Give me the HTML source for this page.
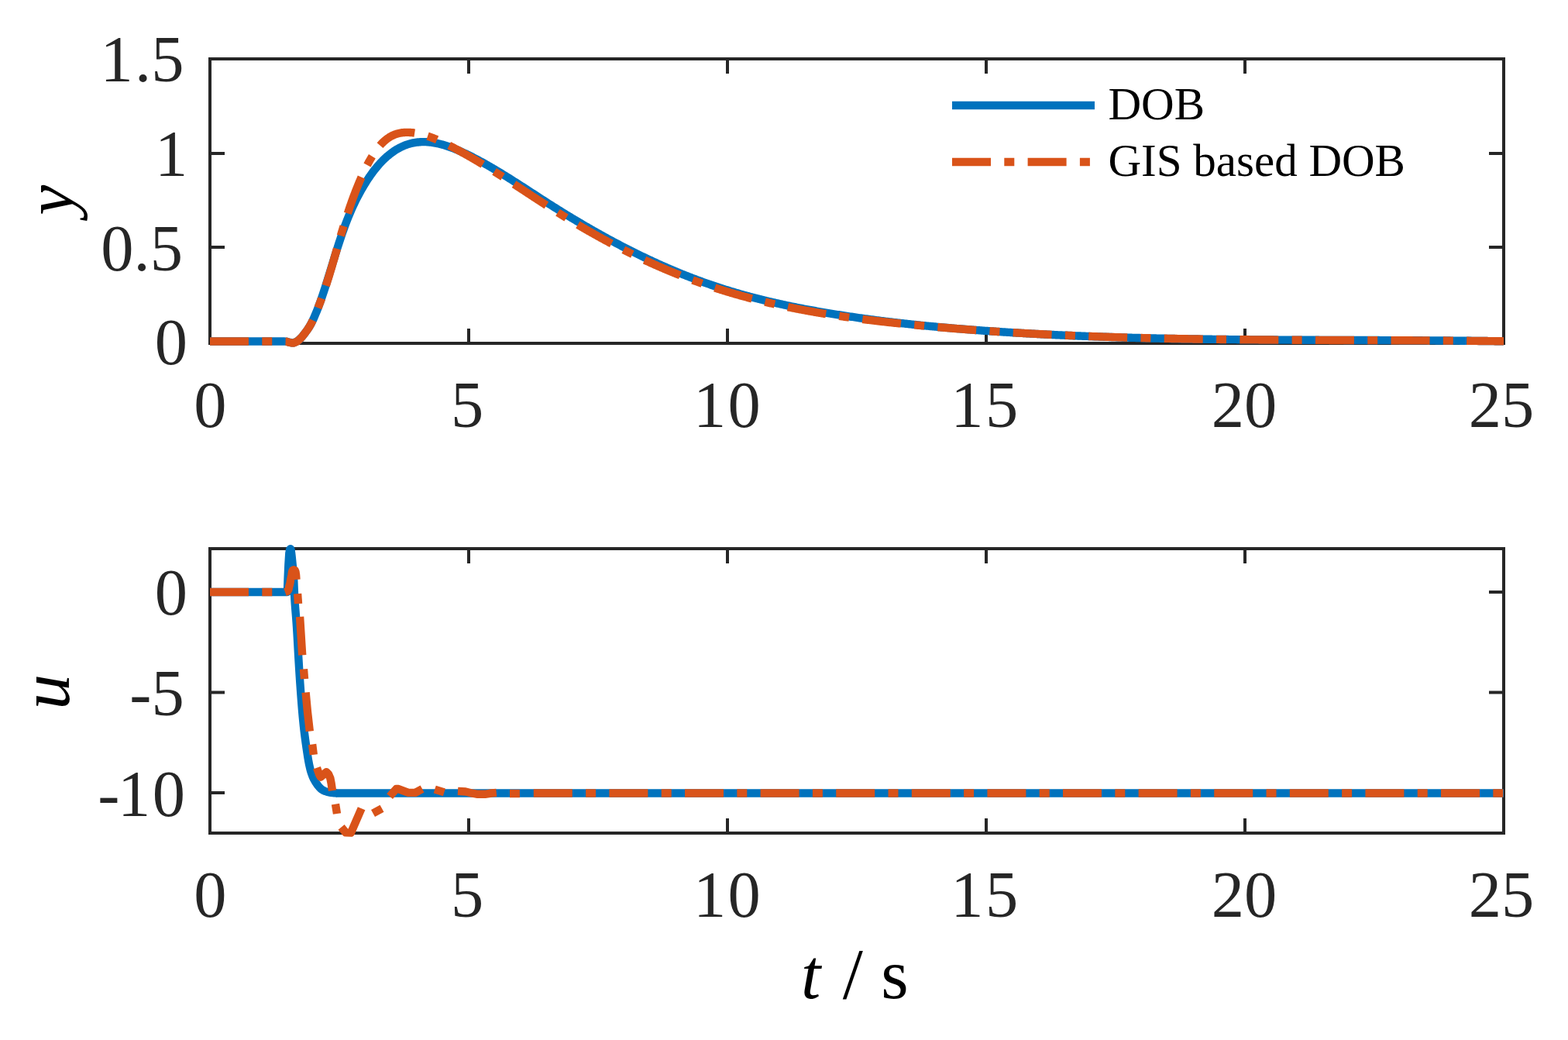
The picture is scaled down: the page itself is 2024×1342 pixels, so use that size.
<!DOCTYPE html>
<html lang="en"><head><meta charset="utf-8"><title>DOB vs GIS based DOB</title>
<style>html,body{margin:0;padding:0;background:#fff}body{width:2024px;height:1342px;overflow:hidden}svg{display:block}text{font-family:"Liberation Serif","Times New Roman",Times,serif}.tk{font-size:84.5px;fill:#262626}.lg{font-size:59px;fill:#000}.al{font-size:91px;fill:#000}.ax{fill:none;stroke:#262626;stroke-width:4;stroke-linecap:butt;stroke-linejoin:miter}.b{fill:none;stroke:#0072BD;stroke-width:10.4;stroke-linejoin:round;stroke-linecap:butt}.o{fill:none;stroke:#D95319;stroke-width:10.4;stroke-linejoin:round;stroke-linecap:butt}</style></head><body>
<svg width="2024" height="1342" viewBox="0 0 2024 1342" role="img" aria-label="Responses of y and u for DOB and GIS based DOB">
<rect width="2024" height="1342" fill="#fff"/>
<g class="ax" id="top-axes">
<rect x="271" y="76" width="1670" height="367"/>
<path d="M605 443V424M605 76V95M939 443V424M939 76V95M1273 443V424M1273 76V95M1607 443V424M1607 76V95M271 198H290M1941 198H1922M271 319H290M1941 319H1922M271 440.4H290M1941 440.4H1922"/>
</g>
<clipPath id="ct"><rect x="271" y="60" width="1670" height="400"/></clipPath>
<clipPath id="cb"><rect x="271" y="690" width="1670" height="400"/></clipPath>
<g clip-path="url(#ct)">
<path class="b" d="M271 440.55 L272.5 440.55 L274 440.55 L275.5 440.55 L277 440.55 L278.5 440.55 L280 440.55 L281.5 440.55 L283 440.55 L284.5 440.55 L286 440.55 L287.5 440.55 L289 440.55 L290.5 440.55 L292 440.55 L293.5 440.55 L295 440.55 L296.5 440.55 L298 440.55 L299.5 440.55 L301 440.55 L302.5 440.55 L304 440.55 L305.5 440.55 L307 440.55 L308.5 440.55 L310 440.55 L311.5 440.55 L313 440.55 L314.5 440.55 L316 440.55 L317.5 440.55 L319 440.55 L320.5 440.55 L322 440.55 L323.5 440.55 L325 440.55 L326.5 440.55 L328 440.55 L329.5 440.55 L331 440.55 L332.5 440.55 L334 440.55 L335.5 440.55 L337 440.55 L338.5 440.55 L340 440.55 L341.5 440.55 L343 440.55 L344.5 440.55 L346 440.55 L347.5 440.55 L349 440.55 L350.5 440.55 L352 440.55 L353.5 440.55 L355 440.55 L356.5 440.55 L358 440.55 L359.5 440.55 L361 440.55 L362.5 440.55 L364 440.55 L365.5 440.55 L367 440.56 L368.5 440.59 L370 440.74 L371.5 441.18 L373 441.6 L374.5 441.92 L376 442.22 L377.5 442.39 L379 442.28 L380.5 441.79 L382 441.1 L383.5 440.33 L385 439.3 L386.5 438.02 L388 436.6 L389.5 435.01 L391 433.2 L392.5 431.25 L394 429.27 L395.5 427.26 L397 425.18 L398.5 422.94 L400 420.51 L401.5 417.85 L403 414.94 L404.5 411.78 L406 408.38 L407.5 404.82 L409 401.16 L410.5 397.38 L412 393.44 L413.5 389.31 L415 385.04 L416.5 380.65 L418 376.14 L419.5 371.53 L421 366.84 L422.5 362.09 L424 357.27 L425.5 352.42 L427 347.54 L428.5 342.65 L430 337.76 L431.5 332.89 L433 328.05 L434.5 323.26 L436 318.52 L437.5 313.86 L439 309.27 L440.5 304.78 L442 300.41 L443.5 296.15 L445 292.03 L446.5 288.03 L448 284.15 L449.5 280.39 L451 276.74 L452.5 273.21 L454 269.78 L455.5 266.45 L457 263.23 L458.5 260.1 L460 257.06 L461.5 254.12 L463 251.25 L464.5 248.47 L466 245.77 L467.5 243.14 L469 240.57 L470.5 238.08 L472 235.65 L473.5 233.29 L475 230.99 L476.5 228.76 L478 226.59 L479.5 224.48 L481 222.44 L482.5 220.45 L484 218.53 L485.5 216.66 L487 214.86 L488.5 213.11 L490 211.42 L491.5 209.79 L493 208.21 L494.5 206.69 L496 205.23 L497.5 203.81 L499 202.46 L500.5 201.15 L502 199.9 L503.5 198.7 L505 197.55 L506.5 196.45 L508 195.39 L509.5 194.39 L511 193.44 L512.5 192.53 L514 191.67 L515.5 190.85 L517 190.08 L518.5 189.36 L520 188.68 L521.5 188.04 L523 187.44 L524.5 186.89 L526 186.37 L527.5 185.9 L529 185.46 L530.5 185.07 L532 184.71 L533.5 184.39 L535 184.11 L536.5 183.86 L538 183.65 L539.5 183.48 L541 183.33 L542.5 183.22 L544 183.15 L545.5 183.1 L547 183.09 L548.5 183.11 L550 183.15 L551.5 183.23 L553 183.34 L554.5 183.47 L556 183.63 L557.5 183.82 L559 184.04 L560.5 184.28 L562 184.54 L563.5 184.83 L565 185.15 L566.5 185.49 L568 185.85 L569.5 186.23 L571 186.64 L572.5 187.06 L574 187.51 L575.5 187.97 L577 188.46 L578.5 188.96 L580 189.48 L581.5 190.02 L583 190.58 L584.5 191.15 L586 191.73 L587.5 192.34 L589 192.95 L590.5 193.58 L592 194.22 L593.5 194.88 L595 195.54 L596.5 196.22 L598 196.91 L599.5 197.61 L601 198.32 L602.5 199.03 L604 199.76 L605.5 200.49 L607 201.24 L608.5 201.99 L610 202.75 L611.5 203.52 L613 204.29 L614.5 205.08 L616 205.87 L617.5 206.67 L619 207.47 L620.5 208.28 L622 209.11 L623.5 209.93 L625 210.77 L626.5 211.61 L628 212.45 L629.5 213.31 L631 214.17 L632.5 215.03 L634 215.9 L635.5 216.78 L637 217.66 L638.5 218.55 L640 219.44 L641.5 220.34 L643 221.24 L644.5 222.14 L646 223.05 L647.5 223.97 L649 224.89 L650.5 225.81 L652 226.74 L653.5 227.67 L655 228.61 L656.5 229.54 L658 230.48 L659.5 231.43 L661 232.38 L662.5 233.33 L664 234.28 L665.5 235.23 L667 236.19 L668.5 237.15 L670 238.11 L671.5 239.07 L673 240.04 L674.5 241 L676 241.97 L677.5 242.94 L679 243.91 L680.5 244.88 L682 245.85 L683.5 246.82 L685 247.79 L686.5 248.77 L688 249.74 L689.5 250.71 L691 251.68 L692.5 252.65 L694 253.63 L695.5 254.6 L697 255.56 L698.5 256.53 L700 257.5 L701.5 258.47 L703 259.43 L704.5 260.39 L706 261.35 L707.5 262.31 L709 263.27 L710.5 264.22 L712 265.17 L713.5 266.12 L715 267.07 L716.5 268.01 L718 268.95 L719.5 269.89 L721 270.83 L722.5 271.76 L724 272.69 L725.5 273.62 L727 274.55 L728.5 275.47 L730 276.39 L731.5 277.31 L733 278.23 L734.5 279.14 L736 280.05 L737.5 280.95 L739 281.86 L740.5 282.76 L742 283.66 L743.5 284.56 L745 285.45 L746.5 286.34 L748 287.23 L749.5 288.11 L751 289 L752.5 289.88 L754 290.75 L755.5 291.63 L757 292.5 L758.5 293.37 L760 294.23 L761.5 295.09 L763 295.95 L764.5 296.81 L766 297.66 L767.5 298.52 L769 299.36 L770.5 300.21 L772 301.05 L773.5 301.89 L775 302.73 L776.5 303.56 L778 304.39 L779.5 305.22 L781 306.04 L782.5 306.87 L784 307.69 L785.5 308.5 L787 309.31 L788.5 310.12 L790 310.93 L791.5 311.73 L793 312.54 L794.5 313.33 L796 314.13 L797.5 314.92 L799 315.71 L800.5 316.49 L802 317.28 L803.5 318.05 L805 318.83 L806.5 319.6 L808 320.37 L809.5 321.14 L811 321.9 L812.5 322.66 L814 323.42 L815.5 324.18 L817 324.93 L818.5 325.67 L820 326.42 L821.5 327.16 L823 327.9 L824.5 328.63 L826 329.36 L827.5 330.09 L829 330.82 L830.5 331.54 L832 332.26 L833.5 332.97 L835 333.68 L836.5 334.39 L838 335.1 L839.5 335.8 L841 336.5 L842.5 337.19 L844 337.88 L845.5 338.57 L847 339.26 L848.5 339.94 L850 340.62 L851.5 341.29 L853 341.96 L854.5 342.63 L856 343.3 L857.5 343.96 L859 344.62 L860.5 345.27 L862 345.92 L863.5 346.57 L865 347.21 L866.5 347.85 L868 348.49 L869.5 349.12 L871 349.75 L872.5 350.38 L874 351 L875.5 351.62 L877 352.24 L878.5 352.85 L880 353.46 L881.5 354.06 L883 354.66 L884.5 355.26 L886 355.85 L887.5 356.44 L889 357.03 L890.5 357.61 L892 358.19 L893.5 358.77 L895 359.34 L896.5 359.91 L898 360.48 L899.5 361.04 L901 361.59 L902.5 362.15 L904 362.7 L905.5 363.24 L907 363.79 L908.5 364.32 L910 364.86 L911.5 365.39 L913 365.92 L914.5 366.44 L916 366.96 L917.5 367.48 L919 367.99 L920.5 368.5 L922 369 L923.5 369.5 L925 370 L926.5 370.5 L928 370.99 L929.5 371.47 L931 371.95 L932.5 372.43 L934 372.91 L935.5 373.38 L937 373.85 L938.5 374.32 L940 374.78 L941.5 375.24 L943 375.69 L944.5 376.14 L946 376.59 L947.5 377.04 L949 377.48 L950.5 377.92 L952 378.35 L953.5 378.78 L955 379.21 L956.5 379.64 L958 380.06 L959.5 380.48 L961 380.9 L962.5 381.31 L964 381.72 L965.5 382.13 L967 382.53 L968.5 382.93 L970 383.33 L971.5 383.72 L973 384.12 L974.5 384.5 L976 384.89 L977.5 385.27 L979 385.65 L980.5 386.03 L982 386.41 L983.5 386.78 L985 387.15 L986.5 387.51 L988 387.88 L989.5 388.24 L991 388.6 L992.5 388.95 L994 389.3 L995.5 389.65 L997 390 L998.5 390.35 L1000 390.69 L1001.5 391.03 L1003 391.37 L1004.5 391.7 L1006 392.03 L1007.5 392.36 L1009 392.69 L1010.5 393.02 L1012 393.34 L1013.5 393.66 L1015 393.98 L1016.5 394.29 L1018 394.61 L1019.5 394.92 L1021 395.23 L1022.5 395.53 L1024 395.84 L1025.5 396.14 L1027 396.44 L1028.5 396.74 L1030 397.04 L1031.5 397.33 L1033 397.62 L1034.5 397.91 L1036 398.2 L1037.5 398.49 L1039 398.77 L1040.5 399.05 L1042 399.33 L1043.5 399.61 L1045 399.89 L1046.5 400.16 L1048 400.43 L1049.5 400.7 L1051 400.97 L1052.5 401.24 L1054 401.51 L1055.5 401.77 L1057 402.03 L1058.5 402.29 L1060 402.55 L1061.5 402.81 L1063 403.06 L1064.5 403.32 L1066 403.57 L1067.5 403.82 L1069 404.07 L1070.5 404.32 L1072 404.56 L1073.5 404.81 L1075 405.05 L1076.5 405.29 L1078 405.53 L1079.5 405.77 L1081 406.01 L1082.5 406.25 L1084 406.48 L1085.5 406.72 L1087 406.95 L1088.5 407.18 L1090 407.41 L1091.5 407.64 L1093 407.86 L1094.5 408.09 L1096 408.31 L1097.5 408.53 L1099 408.75 L1100.5 408.97 L1102 409.19 L1103.5 409.41 L1105 409.63 L1106.5 409.84 L1108 410.05 L1109.5 410.27 L1111 410.48 L1112.5 410.69 L1114 410.89 L1115.5 411.1 L1117 411.31 L1118.5 411.51 L1120 411.71 L1121.5 411.92 L1123 412.12 L1124.5 412.32 L1126 412.51 L1127.5 412.71 L1129 412.91 L1130.5 413.1 L1132 413.3 L1133.5 413.49 L1135 413.68 L1136.5 413.87 L1138 414.06 L1139.5 414.24 L1141 414.43 L1142.5 414.62 L1144 414.8 L1145.5 414.98 L1147 415.16 L1148.5 415.34 L1150 415.52 L1151.5 415.7 L1153 415.88 L1154.5 416.05 L1156 416.23 L1157.5 416.4 L1159 416.58 L1160.5 416.75 L1162 416.92 L1163.5 417.09 L1165 417.25 L1166.5 417.42 L1168 417.59 L1169.5 417.75 L1171 417.92 L1172.5 418.08 L1174 418.24 L1175.5 418.4 L1177 418.56 L1178.5 418.72 L1180 418.88 L1181.5 419.04 L1183 419.19 L1184.5 419.35 L1186 419.5 L1187.5 419.65 L1189 419.81 L1190.5 419.96 L1192 420.11 L1193.5 420.26 L1195 420.4 L1196.5 420.55 L1198 420.7 L1199.5 420.84 L1201 420.99 L1202.5 421.13 L1204 421.27 L1205.5 421.41 L1207 421.55 L1208.5 421.69 L1210 421.83 L1211.5 421.97 L1213 422.11 L1214.5 422.24 L1216 422.38 L1217.5 422.51 L1219 422.65 L1220.5 422.78 L1222 422.91 L1223.5 423.04 L1225 423.17 L1226.5 423.3 L1228 423.43 L1229.5 423.56 L1231 423.68 L1232.5 423.81 L1234 423.93 L1235.5 424.06 L1237 424.18 L1238.5 424.3 L1240 424.43 L1241.5 424.55 L1243 424.67 L1244.5 424.79 L1246 424.91 L1247.5 425.02 L1249 425.14 L1250.5 425.26 L1252 425.37 L1253.5 425.49 L1255 425.6 L1256.5 425.72 L1258 425.83 L1259.5 425.94 L1261 426.06 L1262.5 426.17 L1264 426.28 L1265.5 426.39 L1267 426.5 L1268.5 426.6 L1270 426.71 L1271.5 426.82 L1273 426.92 L1274.5 427.03 L1276 427.14 L1277.5 427.24 L1279 427.34 L1280.5 427.45 L1282 427.55 L1283.5 427.65 L1285 427.75 L1286.5 427.85 L1288 427.95 L1289.5 428.05 L1291 428.15 L1292.5 428.25 L1294 428.35 L1295.5 428.44 L1297 428.54 L1298.5 428.64 L1300 428.73 L1301.5 428.82 L1303 428.92 L1304.5 429.01 L1306 429.1 L1307.5 429.2 L1309 429.29 L1310.5 429.38 L1312 429.47 L1313.5 429.56 L1315 429.65 L1316.5 429.74 L1318 429.82 L1319.5 429.91 L1321 430 L1322.5 430.08 L1324 430.17 L1325.5 430.25 L1327 430.34 L1328.5 430.42 L1330 430.5 L1331.5 430.59 L1333 430.67 L1334.5 430.75 L1336 430.83 L1337.5 430.91 L1339 430.99 L1340.5 431.07 L1342 431.15 L1343.5 431.23 L1345 431.31 L1346.5 431.38 L1348 431.46 L1349.5 431.54 L1351 431.61 L1352.5 431.69 L1354 431.76 L1355.5 431.83 L1357 431.91 L1358.5 431.98 L1360 432.05 L1361.5 432.12 L1363 432.19 L1364.5 432.26 L1366 432.34 L1367.5 432.4 L1369 432.47 L1370.5 432.54 L1372 432.61 L1373.5 432.68 L1375 432.74 L1376.5 432.81 L1378 432.88 L1379.5 432.94 L1381 433.01 L1382.5 433.07 L1384 433.14 L1385.5 433.2 L1387 433.26 L1388.5 433.33 L1390 433.39 L1391.5 433.45 L1393 433.51 L1394.5 433.57 L1396 433.63 L1397.5 433.69 L1399 433.75 L1400.5 433.81 L1402 433.87 L1403.5 433.92 L1405 433.98 L1406.5 434.04 L1408 434.09 L1409.5 434.15 L1411 434.21 L1412.5 434.26 L1414 434.32 L1415.5 434.37 L1417 434.42 L1418.5 434.48 L1420 434.53 L1421.5 434.58 L1423 434.63 L1424.5 434.68 L1426 434.73 L1427.5 434.79 L1429 434.84 L1430.5 434.89 L1432 434.93 L1433.5 434.98 L1435 435.03 L1436.5 435.08 L1438 435.13 L1439.5 435.17 L1441 435.22 L1442.5 435.27 L1444 435.31 L1445.5 435.36 L1447 435.4 L1448.5 435.45 L1450 435.49 L1451.5 435.54 L1453 435.58 L1454.5 435.62 L1456 435.66 L1457.5 435.71 L1459 435.75 L1460.5 435.79 L1462 435.83 L1463.5 435.87 L1465 435.91 L1466.5 435.95 L1468 435.99 L1469.5 436.03 L1471 436.07 L1472.5 436.11 L1474 436.15 L1475.5 436.18 L1477 436.22 L1478.5 436.26 L1480 436.29 L1481.5 436.33 L1483 436.37 L1484.5 436.4 L1486 436.44 L1487.5 436.47 L1489 436.51 L1490.5 436.54 L1492 436.57 L1493.5 436.61 L1495 436.64 L1496.5 436.67 L1498 436.7 L1499.5 436.74 L1501 436.77 L1502.5 436.8 L1504 436.83 L1505.5 436.86 L1507 436.89 L1508.5 436.92 L1510 436.95 L1511.5 436.98 L1513 437.01 L1514.5 437.04 L1516 437.07 L1517.5 437.09 L1519 437.12 L1520.5 437.15 L1522 437.18 L1523.5 437.2 L1525 437.23 L1526.5 437.26 L1528 437.28 L1529.5 437.31 L1531 437.33 L1532.5 437.36 L1534 437.38 L1535.5 437.41 L1537 437.43 L1538.5 437.46 L1540 437.48 L1541.5 437.5 L1543 437.53 L1544.5 437.55 L1546 437.57 L1547.5 437.59 L1549 437.61 L1550.5 437.64 L1552 437.66 L1553.5 437.68 L1555 437.7 L1556.5 437.72 L1558 437.74 L1559.5 437.76 L1561 437.78 L1562.5 437.8 L1564 437.82 L1565.5 437.84 L1567 437.86 L1568.5 437.88 L1570 437.9 L1571.5 437.91 L1573 437.93 L1574.5 437.95 L1576 437.97 L1577.5 437.98 L1579 438 L1580.5 438.02 L1582 438.03 L1583.5 438.05 L1585 438.07 L1586.5 438.08 L1588 438.1 L1589.5 438.11 L1591 438.13 L1592.5 438.14 L1594 438.16 L1595.5 438.17 L1597 438.19 L1598.5 438.2 L1600 438.22 L1601.5 438.23 L1603 438.24 L1604.5 438.26 L1606 438.27 L1607.5 438.28 L1609 438.3 L1610.5 438.31 L1612 438.32 L1613.5 438.33 L1615 438.35 L1616.5 438.36 L1618 438.37 L1619.5 438.38 L1621 438.39 L1622.5 438.41 L1624 438.42 L1625.5 438.43 L1627 438.44 L1628.5 438.45 L1630 438.46 L1631.5 438.47 L1633 438.48 L1634.5 438.49 L1636 438.5 L1637.5 438.51 L1639 438.52 L1640.5 438.53 L1642 438.54 L1643.5 438.55 L1645 438.56 L1646.5 438.57 L1648 438.57 L1649.5 438.58 L1651 438.59 L1652.5 438.6 L1654 438.61 L1655.5 438.62 L1657 438.62 L1658.5 438.63 L1660 438.64 L1661.5 438.65 L1663 438.66 L1664.5 438.66 L1666 438.67 L1667.5 438.68 L1669 438.68 L1670.5 438.69 L1672 438.7 L1673.5 438.71 L1675 438.71 L1676.5 438.72 L1678 438.73 L1679.5 438.73 L1681 438.74 L1682.5 438.74 L1684 438.75 L1685.5 438.76 L1687 438.76 L1688.5 438.77 L1690 438.77 L1691.5 438.78 L1693 438.79 L1694.5 438.79 L1696 438.8 L1697.5 438.8 L1699 438.81 L1700.5 438.81 L1702 438.82 L1703.5 438.83 L1705 438.83 L1706.5 438.84 L1708 438.84 L1709.5 438.85 L1711 438.85 L1712.5 438.86 L1714 438.86 L1715.5 438.87 L1717 438.87 L1718.5 438.88 L1720 438.88 L1721.5 438.89 L1723 438.89 L1724.5 438.9 L1726 438.9 L1727.5 438.9 L1729 438.91 L1730.5 438.91 L1732 438.92 L1733.5 438.92 L1735 438.93 L1736.5 438.93 L1738 438.94 L1739.5 438.94 L1741 438.95 L1742.5 438.95 L1744 438.96 L1745.5 438.96 L1747 438.96 L1748.5 438.97 L1750 438.97 L1751.5 438.98 L1753 438.98 L1754.5 438.99 L1756 438.99 L1757.5 439 L1759 439 L1760.5 439.01 L1762 439.01 L1763.5 439.02 L1765 439.02 L1766.5 439.03 L1768 439.03 L1769.5 439.04 L1771 439.04 L1772.5 439.05 L1774 439.05 L1775.5 439.06 L1777 439.06 L1778.5 439.07 L1780 439.07 L1781.5 439.08 L1783 439.08 L1784.5 439.09 L1786 439.09 L1787.5 439.1 L1789 439.1 L1790.5 439.11 L1792 439.11 L1793.5 439.12 L1795 439.13 L1796.5 439.13 L1798 439.14 L1799.5 439.14 L1801 439.15 L1802.5 439.16 L1804 439.16 L1805.5 439.17 L1807 439.18 L1808.5 439.18 L1810 439.19 L1811.5 439.2 L1813 439.2 L1814.5 439.21 L1816 439.22 L1817.5 439.22 L1819 439.23 L1820.5 439.24 L1822 439.25 L1823.5 439.25 L1825 439.26 L1826.5 439.27 L1828 439.28 L1829.5 439.28 L1831 439.29 L1832.5 439.3 L1834 439.31 L1835.5 439.32 L1837 439.33 L1838.5 439.33 L1840 439.34 L1841.5 439.35 L1843 439.36 L1844.5 439.37 L1846 439.38 L1847.5 439.39 L1849 439.4 L1850.5 439.41 L1852 439.42 L1853.5 439.43 L1855 439.44 L1856.5 439.45 L1858 439.46 L1859.5 439.47 L1861 439.48 L1862.5 439.49 L1864 439.5 L1865.5 439.52 L1867 439.53 L1868.5 439.54 L1870 439.55 L1871.5 439.56 L1873 439.58 L1874.5 439.59 L1876 439.6 L1877.5 439.61 L1879 439.63 L1880.5 439.64 L1882 439.65 L1883.5 439.67 L1885 439.68 L1886.5 439.7 L1888 439.71 L1889.5 439.72 L1891 439.74 L1892.5 439.75 L1894 439.77 L1895.5 439.78 L1897 439.8 L1898.5 439.81 L1900 439.83 L1901.5 439.85 L1903 439.86 L1904.5 439.88 L1906 439.9 L1907.5 439.91 L1909 439.93 L1910.5 439.95 L1912 439.96 L1913.5 439.98 L1915 440 L1916.5 440.02 L1918 440.04 L1919.5 440.06 L1921 440.08 L1922.5 440.09 L1924 440.11 L1925.5 440.13 L1927 440.15 L1928.5 440.17 L1930 440.2 L1931.5 440.22 L1933 440.24 L1934.5 440.26 L1936 440.28 L1937.5 440.3 L1939 440.32 L1940.5 440.35 L1941 440.35"/>
<path class="o" pathLength="976" stroke-dasharray="50 17.3 13 17.3" d="M271 440.55 L272 440.55 L273 440.55 L274 440.55 L275 440.55 L276 440.55 L277 440.55 L278 440.55 L279 440.55 L280 440.55 L281 440.55 L282 440.55 L283 440.55 L284 440.55 L285 440.55 L286 440.55 L287 440.55 L288 440.55 L289 440.55 L290 440.55 L291 440.55 L292 440.55 L293 440.55 L294 440.55 L295 440.55 L296 440.55 L297 440.55 L298 440.55 L299 440.55 L300 440.55 L301 440.55 L302 440.55 L303 440.55 L304 440.55 L305 440.55 L306 440.55 L307 440.55 L308 440.55 L309 440.55 L310 440.55 L311 440.55 L312 440.55 L313 440.55 L314 440.55 L315 440.55 L316 440.55 L317 440.55 L318 440.55 L319 440.55 L320 440.55 L321 440.55 L322 440.55 L323 440.55 L324 440.55 L325 440.55 L326 440.55 L327 440.55 L328 440.55 L329 440.55 L330 440.55 L331 440.55 L332 440.55 L333 440.55 L334 440.55 L335 440.55 L336 440.55 L337 440.55 L338 440.55 L339 440.55 L340 440.55 L341 440.55 L342 440.55 L343 440.55 L344 440.55 L345 440.55 L346 440.55 L347 440.55 L348 440.55 L349 440.55 L350 440.55 L351 440.55 L352 440.55 L353 440.55 L354 440.55 L355 440.55 L356 440.55 L357 440.55 L358 440.55 L359 440.55 L360 440.55 L361 440.55 L362 440.55 L363 440.55 L364 440.55 L365 440.55 L366 440.55 L367 440.56 L368 440.57 L369 440.6 L370 440.76 L371 441.11 L372 441.5 L373 441.8 L374 442.02 L375 442.24 L376 442.43 L377 442.56 L378 442.6 L379 442.48 L380 442.19 L381 441.78 L382 441.3 L383 440.8 L384 440.2 L385 439.44 L386 438.55 L387 437.59 L388 436.6 L389 435.55 L390 434.4 L391 433.18 L392 431.9 L393 430.59 L394 429.27 L395 427.94 L396 426.58 L397 425.18 L398 423.71 L399 422.15 L400 420.49 L401 418.73 L402 416.85 L403 414.87 L404 412.77 L405 410.54 L406 408.23 L407 405.86 L408 403.45 L409 401.01 L410 398.55 L411 396.03 L412 393.46 L413 390.83 L414 388.13 L415 385.38 L416 382.57 L417 379.72 L418 376.81 L419 373.85 L420 370.84 L421 367.78 L422 364.68 L423 361.54 L424 358.35 L425 355.12 L426 351.85 L427 348.55 L428 345.2 L429 341.82 L430 338.41 L431 334.97 L432 331.51 L433 328.03 L434 324.53 L435 321.04 L436 317.54 L437 314.06 L438 310.59 L439 307.14 L440 303.72 L441 300.33 L442 296.99 L443 293.69 L444 290.44 L445 287.23 L446 284.06 L447 280.94 L448 277.86 L449 274.82 L450 271.83 L451 268.89 L452 265.98 L453 263.12 L454 260.31 L455 257.53 L456 254.8 L457 252.12 L458 249.47 L459 246.87 L460 244.32 L461 241.8 L462 239.33 L463 236.9 L464 234.51 L465 232.17 L466 229.87 L467 227.62 L468 225.41 L469 223.24 L470 221.11 L471 219.03 L472 217 L473 215.01 L474 213.07 L475 211.17 L476 209.31 L477 207.51 L478 205.74 L479 204.03 L480 202.36 L481 200.74 L482 199.16 L483 197.63 L484 196.15 L485 194.71 L486 193.33 L487 191.99 L488 190.69 L489 189.45 L490 188.26 L491 187.11 L492 186.01 L493 184.96 L494 183.96 L495 183 L496 182.08 L497 181.21 L498 180.38 L499 179.6 L500 178.85 L501 178.15 L502 177.48 L503 176.85 L504 176.26 L505 175.71 L506 175.19 L507 174.71 L508 174.26 L509 173.84 L510 173.45 L511 173.1 L512 172.78 L513 172.48 L514 172.21 L515 171.97 L516 171.76 L517 171.57 L518 171.41 L519 171.27 L520 171.15 L521 171.05 L522 170.98 L523 170.92 L524 170.89 L525 170.87 L526 170.87 L527 170.88 L528 170.91 L529 170.96 L530 171.02 L531 171.1 L532 171.19 L533 171.29 L534 171.41 L535 171.54 L536 171.69 L537 171.85 L538 172.02 L539 172.2 L540 172.4 L541 172.61 L542 172.83 L543 173.06 L544 173.31 L545 173.56 L546 173.83 L547 174.11 L548 174.4 L549 174.7 L550 175.01 L551 175.32 L552 175.65 L553 175.99 L554 176.34 L555 176.7 L556 177.06 L557 177.44 L558 177.82 L559 178.21 L560 178.61 L561 179.01 L562 179.42 L563 179.84 L564 180.27 L565 180.71 L566 181.15 L567 181.59 L568 182.04 L569 182.5 L570 182.97 L571 183.43 L572 183.91 L573 184.39 L574 184.87 L575 185.36 L576 185.85 L577 186.34 L578 186.84 L579 187.34 L580 187.85 L581 188.36 L582 188.87 L583 189.38 L584 189.9 L585 190.42 L586 190.94 L587 191.47 L588 192 L589 192.53 L590 193.06 L591 193.6 L592 194.14 L593 194.68 L594 195.22 L595 195.77 L596 196.32 L597 196.87 L598 197.42 L599 197.98 L600 198.54 L601 199.1 L602 199.66 L603 200.23 L604 200.8 L605 201.37 L606 201.94 L607 202.52 L608 203.09 L609 203.67 L610 204.26 L611 204.84 L612 205.43 L613 206.01 L614 206.6 L615 207.19 L616 207.79 L617 208.38 L618 208.98 L619 209.58 L620 210.18 L621 210.78 L622 211.39 L623 211.99 L624 212.6 L625 213.21 L626 213.82 L627 214.43 L628 215.05 L629 215.66 L630 216.28 L631 216.9 L632 217.52 L633 218.14 L634 218.77 L635 219.39 L636 220.02 L637 220.64 L638 221.27 L639 221.9 L640 222.53 L641 223.16 L642 223.8 L643 224.43 L644 225.07 L645 225.7 L646 226.34 L647 226.98 L648 227.62 L649 228.26 L650 228.9 L651 229.54 L652 230.18 L653 230.82 L654 231.47 L655 232.11 L656 232.76 L657 233.41 L658 234.05 L659 234.7 L660 235.35 L661 236 L662 236.65 L663 237.3 L664 237.95 L665 238.6 L666 239.25 L667 239.9 L668 240.55 L669 241.21 L670 241.86 L671 242.51 L672 243.16 L673 243.82 L674 244.47 L675 245.12 L676 245.78 L677 246.43 L678 247.09 L679 247.74 L680 248.39 L681 249.05 L682 249.7 L683 250.35 L684 251.01 L685 251.66 L686 252.31 L687 252.97 L688 253.62 L689 254.27 L690 254.92 L691 255.58 L692 256.23 L693 256.88 L694 257.53 L695 258.18 L696 258.83 L697 259.48 L698 260.12 L699 260.77 L700 261.42 L701 262.07 L702 262.71 L703 263.36 L704 264 L705 264.65 L706 265.29 L707 265.93 L708 266.57 L709 267.21 L710 267.85 L711 268.49 L712 269.13 L713 269.76 L714 270.4 L715 271.03 L716 271.67 L717 272.3 L718 272.93 L719 273.56 L720 274.19 L721 274.82 L722 275.44 L723 276.07 L724 276.69 L725 277.31 L726 277.93 L727 278.55 L728 279.17 L729 279.79 L730 280.4 L731 281.01 L732 281.63 L733 282.24 L734 282.85 L735 283.45 L736 284.06 L737 284.66 L738 285.27 L739 285.87 L740 286.47 L741 287.07 L742 287.67 L743 288.27 L744 288.86 L745 289.45 L746 290.05 L747 290.64 L748 291.23 L749 291.81 L750 292.4 L751 292.99 L752 293.57 L753 294.15 L754 294.73 L755 295.31 L756 295.89 L757 296.46 L758 297.04 L759 297.61 L760 298.19 L761 298.76 L762 299.33 L763 299.89 L764 300.46 L765 301.02 L766 301.59 L767 302.15 L768 302.71 L769 303.27 L770 303.83 L771 304.38 L772 304.94 L773 305.49 L774 306.04 L775 306.59 L776 307.14 L777 307.69 L778 308.23 L779 308.78 L780 309.32 L781 309.86 L782 310.4 L783 310.94 L784 311.48 L785 312.01 L786 312.55 L787 313.08 L788 313.61 L789 314.14 L790 314.67 L791 315.2 L792 315.72 L793 316.25 L794 316.77 L795 317.29 L796 317.81 L797 318.33 L798 318.84 L799 319.36 L800 319.87 L801 320.38 L802 320.9 L803 321.4 L804 321.91 L805 322.42 L806 322.92 L807 323.43 L808 323.93 L809 324.43 L810 324.93 L811 325.42 L812 325.92 L813 326.41 L814 326.91 L815 327.4 L816 327.89 L817 328.38 L818 328.86 L819 329.35 L820 329.83 L821 330.31 L822 330.79 L823 331.27 L824 331.75 L825 332.23 L826 332.7 L827 333.18 L828 333.65 L829 334.12 L830 334.59 L831 335.05 L832 335.52 L833 335.98 L834 336.45 L835 336.91 L836 337.37 L837 337.82 L838 338.28 L839 338.74 L840 339.19 L841 339.64 L842 340.09 L843 340.54 L844 340.99 L845 341.44 L846 341.88 L847 342.32 L848 342.76 L849 343.2 L850 343.64 L851 344.08 L852 344.51 L853 344.95 L854 345.38 L855 345.81 L856 346.24 L857 346.67 L858 347.09 L859 347.52 L860 347.94 L861 348.36 L862 348.78 L863 349.2 L864 349.62 L865 350.03 L866 350.45 L867 350.86 L868 351.27 L869 351.68 L870 352.09 L871 352.49 L872 352.9 L873 353.3 L874 353.7 L875 354.1 L876 354.5 L877 354.9 L878 355.29 L879 355.69 L880 356.08 L881 356.47 L882 356.86 L883 357.24 L884 357.63 L885 358.01 L886 358.4 L887 358.78 L888 359.16 L889 359.54 L890 359.91 L891 360.29 L892 360.66 L893 361.03 L894 361.4 L895 361.77 L896 362.14 L897 362.5 L898 362.87 L899 363.23 L900 363.59 L901 363.95 L902 364.31 L903 364.66 L904 365.02 L905 365.37 L906 365.72 L907 366.07 L908 366.42 L909 366.77 L910 367.11 L911 367.46 L912 367.8 L913 368.14 L914 368.48 L915 368.82 L916 369.15 L917 369.49 L918 369.82 L919 370.15 L920 370.48 L921 370.81 L922 371.14 L923 371.46 L924 371.79 L925 372.11 L926 372.43 L927 372.75 L928 373.07 L929 373.39 L930 373.7 L931 374.02 L932 374.33 L933 374.64 L934 374.95 L935 375.26 L936 375.56 L937 375.87 L938 376.17 L939 376.48 L940 376.78 L941 377.08 L942 377.38 L943 377.67 L944 377.97 L945 378.26 L946 378.56 L947 378.85 L948 379.14 L949 379.43 L950 379.71 L951 380 L952 380.28 L953 380.57 L954 380.85 L955 381.13 L956 381.41 L957 381.69 L958 381.97 L959 382.24 L960 382.52 L961 382.79 L962 383.06 L963 383.33 L964 383.6 L965 383.87 L966 384.13 L967 384.4 L968 384.66 L969 384.93 L970 385.19 L971 385.45 L972 385.71 L973 385.96 L974 386.22 L975 386.47 L976 386.73 L977 386.98 L978 387.23 L979 387.48 L980 387.73 L981 387.98 L982 388.23 L983 388.47 L984 388.72 L985 388.96 L986 389.2 L987 389.44 L988 389.68 L989 389.92 L990 390.16 L991 390.39 L992 390.63 L993 390.86 L994 391.09 L995 391.32 L996 391.55 L997 391.78 L998 392.01 L999 392.24 L1000 392.46 L1001 392.69 L1002 392.91 L1003 393.13 L1004 393.36 L1005 393.58 L1006 393.79 L1007 394.01 L1008 394.23 L1009 394.44 L1010 394.66 L1011 394.87 L1012 395.09 L1013 395.3 L1014 395.51 L1015 395.72 L1016 395.92 L1017 396.13"/>
<path class="o" stroke-dasharray="50 17.3 13 17.3" d="M1017 396.13 L1018 396.34 L1019 396.54 L1020 396.75 L1021 396.95 L1022 397.15 L1023 397.35 L1024 397.55 L1025 397.75 L1026 397.95 L1027 398.15 L1028 398.34 L1029 398.54 L1030 398.73 L1031 398.93 L1032 399.12 L1033 399.31 L1034 399.5 L1035 399.69 L1036 399.88 L1037 400.06 L1038 400.25 L1039 400.43 L1040 400.62 L1041 400.8 L1042 400.98 L1043 401.17 L1044 401.35 L1045 401.53 L1046 401.71 L1047 401.88 L1048 402.06 L1049 402.24 L1050 402.41 L1051 402.59 L1052 402.76 L1053 402.93 L1054 403.1 L1055 403.27 L1056 403.44 L1057 403.61 L1058 403.78 L1059 403.95 L1060 404.11 L1061 404.28 L1062 404.45 L1063 404.61 L1064 404.77 L1065 404.93 L1066 405.1 L1067 405.26 L1068 405.42 L1069 405.58 L1070 405.73 L1071 405.89 L1072 406.05 L1073 406.2 L1074 406.36 L1075 406.51 L1076 406.67 L1077 406.82 L1078 406.97 L1079 407.12 L1080 407.27 L1081 407.42 L1082 407.57 L1083 407.72 L1084 407.87 L1085 408.01 L1086 408.16 L1087 408.3 L1088 408.45 L1089 408.59 L1090 408.74 L1091 408.88 L1092 409.02 L1093 409.16 L1094 409.3 L1095 409.44 L1096 409.58 L1097 409.72 L1098 409.85 L1099 409.99 L1100 410.13 L1101 410.26 L1102 410.4 L1103 410.53 L1104 410.67 L1105 410.8 L1106 410.93 L1107 411.06 L1108 411.19 L1109 411.32 L1110 411.45 L1111 411.58 L1112 411.71 L1113 411.84 L1114 411.97 L1115 412.09 L1116 412.22 L1117 412.34 L1118 412.47 L1119 412.59 L1120 412.72 L1121 412.84 L1122 412.96 L1123 413.08 L1124 413.21 L1125 413.33 L1126 413.45 L1127 413.57 L1128 413.69 L1129 413.8 L1130 413.92 L1131 414.04 L1132 414.16 L1133 414.27 L1134 414.39 L1135 414.51 L1136 414.62 L1137 414.74 L1138 414.85 L1139 414.96 L1140 415.08 L1141 415.19 L1142 415.3 L1143 415.41 L1144 415.52 L1145 415.64 L1146 415.75 L1147 415.86 L1148 415.96 L1149 416.07 L1150 416.18 L1151 416.29 L1152 416.4 L1153 416.51 L1154 416.61 L1155 416.72 L1156 416.82 L1157 416.93 L1158 417.04 L1159 417.14 L1160 417.24 L1161 417.35 L1162 417.45 L1163 417.56 L1164 417.66 L1165 417.76 L1166 417.86 L1167 417.96 L1168 418.07 L1169 418.17 L1170 418.27 L1171 418.37 L1172 418.47 L1173 418.57 L1174 418.67 L1175 418.77 L1176 418.86 L1177 418.96 L1178 419.06 L1179 419.16 L1180 419.26 L1181 419.35 L1182 419.45 L1183 419.55 L1184 419.64 L1185 419.74 L1186 419.83 L1187 419.93 L1188 420.02 L1189 420.12 L1190 420.21 L1191 420.3 L1192 420.4 L1193 420.49 L1194 420.58 L1195 420.68 L1196 420.77 L1197 420.86 L1198 420.95 L1199 421.04 L1200 421.13 L1201 421.22 L1202 421.31 L1203 421.4 L1204 421.49 L1205 421.58 L1206 421.67 L1207 421.76 L1208 421.85 L1209 421.94 L1210 422.03 L1211 422.11 L1212 422.2 L1213 422.29 L1214 422.37 L1215 422.46 L1216 422.55 L1217 422.63 L1218 422.72 L1219 422.8 L1220 422.89 L1221 422.97 L1222 423.05 L1223 423.14 L1224 423.22 L1225 423.3 L1226 423.39 L1227 423.47 L1228 423.55 L1229 423.63 L1230 423.72 L1231 423.8 L1232 423.88 L1233 423.96 L1234 424.04 L1235 424.12 L1236 424.2 L1237 424.28 L1238 424.36 L1239 424.44 L1240 424.52 L1241 424.59 L1242 424.67 L1243 424.75 L1244 424.83 L1245 424.9 L1246 424.98 L1247 425.06 L1248 425.13 L1249 425.21 L1250 425.29 L1251 425.36 L1252 425.44 L1253 425.51 L1254 425.59 L1255 425.66 L1256 425.73 L1257 425.81 L1258 425.88 L1259 425.95 L1260 426.03 L1261 426.1 L1262 426.17 L1263 426.24 L1264 426.32 L1265 426.39 L1266 426.46 L1267 426.53 L1268 426.6 L1269 426.67 L1270 426.74 L1271 426.81 L1272 426.88 L1273 426.95 L1274 427.02 L1275 427.09 L1276 427.16 L1277 427.22 L1278 427.29 L1279 427.36 L1280 427.43 L1281 427.49 L1282 427.56 L1283 427.63 L1284 427.69 L1285 427.76 L1286 427.83 L1287 427.89 L1288 427.96 L1289 428.02 L1290 428.09 L1291 428.15 L1292 428.21 L1293 428.28 L1294 428.34 L1295 428.41 L1296 428.47 L1297 428.53 L1298 428.59 L1299 428.66 L1300 428.72 L1301 428.78 L1302 428.84 L1303 428.9 L1304 428.96 L1305 429.02 L1306 429.08 L1307 429.15 L1308 429.21 L1309 429.26 L1310 429.32 L1311 429.38 L1312 429.44 L1313 429.5 L1314 429.56 L1315 429.62 L1316 429.68 L1317 429.73 L1318 429.79 L1319 429.85 L1320 429.91 L1321 429.96 L1322 430.02 L1323 430.07 L1324 430.13 L1325 430.19 L1326 430.24 L1327 430.3 L1328 430.35 L1329 430.41 L1330 430.46 L1331 430.52 L1332 430.57 L1333 430.62 L1334 430.68 L1335 430.73 L1336 430.78 L1337 430.84 L1338 430.89 L1339 430.94 L1340 430.99 L1341 431.05 L1342 431.1 L1343 431.15 L1344 431.2 L1345 431.25 L1346 431.3 L1347 431.35 L1348 431.4 L1349 431.45 L1350 431.5 L1351 431.55 L1352 431.6 L1353 431.65 L1354 431.7 L1355 431.75 L1356 431.8 L1357 431.84 L1358 431.89 L1359 431.94 L1360 431.99 L1361 432.03 L1362 432.08 L1363 432.13 L1364 432.17 L1365 432.22 L1366 432.27 L1367 432.31 L1368 432.36 L1369 432.4 L1370 432.45 L1371 432.49 L1372 432.54 L1373 432.58 L1374 432.63 L1375 432.67 L1376 432.72 L1377 432.76 L1378 432.8 L1379 432.85 L1380 432.89 L1381 432.93 L1382 432.98 L1383 433.02 L1384 433.06 L1385 433.1 L1386 433.14 L1387 433.19 L1388 433.23 L1389 433.27 L1390 433.31 L1391 433.35 L1392 433.39 L1393 433.43 L1394 433.47 L1395 433.51 L1396 433.55 L1397 433.59 L1398 433.63 L1399 433.67 L1400 433.71 L1401 433.75 L1402 433.79 L1403 433.82 L1404 433.86 L1405 433.9 L1406 433.94 L1407 433.98 L1408 434.01 L1409 434.05 L1410 434.09 L1411 434.12 L1412 434.16 L1413 434.2 L1414 434.23 L1415 434.27 L1416 434.31 L1417 434.34 L1418 434.38 L1419 434.41 L1420 434.45 L1421 434.48 L1422 434.52 L1423 434.55 L1424 434.58 L1425 434.62 L1426 434.65 L1427 434.69 L1428 434.72 L1429 434.75 L1430 434.79 L1431 434.82 L1432 434.85 L1433 434.88 L1434 434.92 L1435 434.95 L1436 434.98 L1437 435.01 L1438 435.05 L1439 435.08 L1440 435.11 L1441 435.14 L1442 435.17 L1443 435.2 L1444 435.23 L1445 435.26 L1446 435.29 L1447 435.32 L1448 435.35 L1449 435.38 L1450 435.41 L1451 435.44 L1452 435.47 L1453 435.5 L1454 435.53 L1455 435.56 L1456 435.59 L1457 435.61 L1458 435.64 L1459 435.67 L1460 435.7 L1461 435.73 L1462 435.75 L1463 435.78 L1464 435.81 L1465 435.83 L1466 435.86 L1467 435.89 L1468 435.91 L1469 435.94 L1470 435.97 L1471 435.99 L1472 436.02 L1473 436.04 L1474 436.07 L1475 436.1 L1476 436.12 L1477 436.15 L1478 436.17 L1479 436.2 L1480 436.22 L1481 436.25 L1482 436.27 L1483 436.29 L1484 436.32 L1485 436.34 L1486 436.37 L1487 436.39 L1488 436.41 L1489 436.44 L1490 436.46 L1491 436.48 L1492 436.5 L1493 436.53 L1494 436.55 L1495 436.57 L1496 436.59 L1497 436.62 L1498 436.64 L1499 436.66 L1500 436.68 L1501 436.7 L1502 436.72 L1503 436.74 L1504 436.77 L1505 436.79 L1506 436.81 L1507 436.83 L1508 436.85 L1509 436.87 L1510 436.89 L1511 436.91 L1512 436.93 L1513 436.95 L1514 436.97 L1515 436.99 L1516 437.01 L1517 437.03 L1518 437.05 L1519 437.06 L1520 437.08 L1521 437.1 L1522 437.12 L1523 437.14 L1524 437.16 L1525 437.18 L1526 437.19 L1527 437.21 L1528 437.23 L1529 437.25 L1530 437.26 L1531 437.28 L1532 437.3 L1533 437.32 L1534 437.33 L1535 437.35 L1536 437.37 L1537 437.38 L1538 437.4 L1539 437.42 L1540 437.43 L1541 437.45 L1542 437.47 L1543 437.48 L1544 437.5 L1545 437.51 L1546 437.53 L1547 437.54 L1548 437.56 L1549 437.57 L1550 437.59 L1551 437.6 L1552 437.62 L1553 437.63 L1554 437.65 L1555 437.66 L1556 437.68 L1557 437.69 L1558 437.71 L1559 437.72 L1560 437.73 L1561 437.75 L1562 437.76 L1563 437.78 L1564 437.79 L1565 437.8 L1566 437.82 L1567 437.83 L1568 437.84 L1569 437.85 L1570 437.87 L1571 437.88 L1572 437.89 L1573 437.91 L1574 437.92 L1575 437.93 L1576 437.94 L1577 437.95 L1578 437.97 L1579 437.98 L1580 437.99 L1581 438 L1582 438.01 L1583 438.03 L1584 438.04 L1585 438.05 L1586 438.06 L1587 438.07 L1588 438.08 L1589 438.09 L1590 438.1 L1591 438.11 L1592 438.13 L1593 438.14 L1594 438.15 L1595 438.16 L1596 438.17 L1597 438.18 L1598 438.19 L1599 438.2 L1600 438.21 L1601 438.22 L1602 438.23 L1603 438.24 L1604 438.25 L1605 438.26 L1606 438.27 L1607 438.28 L1608 438.29 L1609 438.29 L1610 438.3 L1611 438.31 L1612 438.32 L1613 438.33 L1614 438.34 L1615 438.35 L1616 438.36 L1617 438.37 L1618 438.37 L1619 438.38 L1620 438.39 L1621 438.4 L1622 438.41 L1623 438.42 L1624 438.42 L1625 438.43 L1626 438.44 L1627 438.45 L1628 438.45 L1629 438.46 L1630 438.47 L1631 438.48 L1632 438.49 L1633 438.49 L1634 438.5 L1635 438.51 L1636 438.51 L1637 438.52 L1638 438.53 L1639 438.54 L1640 438.54 L1641 438.55 L1642 438.56 L1643 438.56 L1644 438.57 L1645 438.58 L1646 438.58 L1647 438.59 L1648 438.6 L1649 438.6 L1650 438.61 L1651 438.62 L1652 438.62 L1653 438.63 L1654 438.63 L1655 438.64 L1656 438.65 L1657 438.65 L1658 438.66 L1659 438.66 L1660 438.67 L1661 438.68 L1662 438.68 L1663 438.69 L1664 438.69 L1665 438.7 L1666 438.7 L1667 438.71 L1668 438.71 L1669 438.72 L1670 438.72 L1671 438.73 L1672 438.74 L1673 438.74 L1674 438.75 L1675 438.75 L1676 438.76 L1677 438.76 L1678 438.77 L1679 438.77 L1680 438.78 L1681 438.78 L1682 438.78 L1683 438.79 L1684 438.79 L1685 438.8 L1686 438.8 L1687 438.81 L1688 438.81 L1689 438.82 L1690 438.82 L1691 438.83 L1692 438.83 L1693 438.83 L1694 438.84 L1695 438.84 L1696 438.85 L1697 438.85 L1698 438.86 L1699 438.86 L1700 438.86 L1701 438.87 L1702 438.87 L1703 438.88 L1704 438.88 L1705 438.88 L1706 438.89 L1707 438.89 L1708 438.9 L1709 438.9 L1710 438.9 L1711 438.91 L1712 438.91 L1713 438.92 L1714 438.92 L1715 438.92 L1716 438.93 L1717 438.93 L1718 438.93 L1719 438.94 L1720 438.94 L1721 438.94 L1722 438.95 L1723 438.95 L1724 438.96 L1725 438.96 L1726 438.96 L1727 438.97 L1728 438.97 L1729 438.97 L1730 438.98 L1731 438.98 L1732 438.98 L1733 438.99 L1734 438.99 L1735 438.99 L1736 439 L1737 439 L1738 439 L1739 439.01 L1740 439.01 L1741 439.01 L1742 439.02 L1743 439.02 L1744 439.02 L1745 439.03 L1746 439.03 L1747 439.03 L1748 439.04 L1749 439.04 L1750 439.04 L1751 439.05 L1752 439.05 L1753 439.05 L1754 439.06 L1755 439.06 L1756 439.07 L1757 439.07 L1758 439.07 L1759 439.08 L1760 439.08 L1761 439.08 L1762 439.09 L1763 439.09 L1764 439.09 L1765 439.1 L1766 439.1 L1767 439.1 L1768 439.11 L1769 439.11 L1770 439.11 L1771 439.12 L1772 439.12 L1773 439.12 L1774 439.13 L1775 439.13 L1776 439.13 L1777 439.14 L1778 439.14 L1779 439.14 L1780 439.15 L1781 439.15 L1782 439.15 L1783 439.16 L1784 439.16 L1785 439.17 L1786 439.17 L1787 439.17 L1788 439.18 L1789 439.18 L1790 439.18 L1791 439.19 L1792 439.19 L1793 439.2 L1794 439.2 L1795 439.2 L1796 439.21 L1797 439.21 L1798 439.22 L1799 439.22 L1800 439.22 L1801 439.23 L1802 439.23 L1803 439.24 L1804 439.24 L1805 439.24 L1806 439.25 L1807 439.25 L1808 439.26 L1809 439.26 L1810 439.26 L1811 439.27 L1812 439.27 L1813 439.28 L1814 439.28 L1815 439.29 L1816 439.29 L1817 439.3 L1818 439.3 L1819 439.31 L1820 439.31 L1821 439.31 L1822 439.32 L1823 439.32 L1824 439.33 L1825 439.33 L1826 439.34 L1827 439.34 L1828 439.35 L1829 439.35 L1830 439.36 L1831 439.36 L1832 439.37 L1833 439.37 L1834 439.38 L1835 439.38 L1836 439.39 L1837 439.4 L1838 439.4 L1839 439.41 L1840 439.41 L1841 439.42 L1842 439.42 L1843 439.43 L1844 439.44 L1845 439.44 L1846 439.45 L1847 439.45 L1848 439.46 L1849 439.46 L1850 439.47 L1851 439.48 L1852 439.48 L1853 439.49 L1854 439.5 L1855 439.5 L1856 439.51 L1857 439.52 L1858 439.52 L1859 439.53 L1860 439.53 L1861 439.54 L1862 439.55 L1863 439.56 L1864 439.56 L1865 439.57 L1866 439.58 L1867 439.58 L1868 439.59 L1869 439.6 L1870 439.61 L1871 439.61 L1872 439.62 L1873 439.63 L1874 439.64 L1875 439.64 L1876 439.65 L1877 439.66 L1878 439.67 L1879 439.67 L1880 439.68 L1881 439.69 L1882 439.7 L1883 439.71 L1884 439.72 L1885 439.72 L1886 439.73 L1887 439.74 L1888 439.75 L1889 439.76 L1890 439.77 L1891 439.78 L1892 439.78 L1893 439.79 L1894 439.8 L1895 439.81 L1896 439.82 L1897 439.83 L1898 439.84 L1899 439.85 L1900 439.86 L1901 439.87 L1902 439.88 L1903 439.89 L1904 439.9 L1905 439.91 L1906 439.92 L1907 439.93 L1908 439.94 L1909 439.95 L1910 439.96 L1911 439.97 L1912 439.98 L1913 439.99 L1914 440 L1915 440.01 L1916 440.03 L1917 440.04 L1918 440.05 L1919 440.06 L1920 440.07 L1921 440.08 L1922 440.09 L1923 440.11 L1924 440.12 L1925 440.13 L1926 440.14 L1927 440.15 L1928 440.17 L1929 440.18 L1930 440.19 L1931 440.2 L1932 440.22 L1933 440.23 L1934 440.24 L1935 440.25 L1936 440.27 L1937 440.28 L1938 440.29 L1939 440.31 L1940 440.32 L1941 440.33"/>
</g>
<g class="ax" id="bot-axes">
<rect x="271" y="708" width="1670" height="367"/>
<path d="M605 1075V1056M605 708V727M939 1075V1056M939 708V727M1273 1075V1056M1273 708V727M1607 1075V1056M1607 708V727M271 764H290M1941 764H1922M271 893.5H290M1941 893.5H1922M271 1023H290M1941 1023H1922"/>
</g>
<g clip-path="url(#cb)">
<path class="b" d="M271 764.05 L370.9 764.05 L371.6 746 L372.4 728 L373.3 714 L374.2 708.8 L375 708.2 L375.6 709.6 L375.73 710.6 L375.85 711.59 L375.98 712.59 L376.1 713.58 L376.22 714.58 L376.34 715.58 L376.45 716.57 L376.56 717.57 L376.67 718.57 L376.77 719.57 L376.87 720.57 L376.97 721.57 L377.07 722.56 L377.16 723.56 L377.26 724.56 L377.36 725.56 L377.46 726.56 L377.56 727.56 L377.66 728.56 L377.76 729.56 L377.87 730.56 L377.97 731.55 L378.08 732.55 L378.19 733.55 L378.29 734.55 L378.39 735.55 L378.49 736.55 L378.58 737.55 L378.66 738.55 L378.74 739.55 L378.82 740.55 L378.88 741.55 L378.94 742.55 L379 743.55 L379.06 744.55 L379.11 745.56 L379.15 746.56 L379.2 747.56 L379.24 748.57 L379.28 749.57 L379.32 750.57 L379.37 751.57 L379.41 752.58 L379.45 753.58 L379.49 754.58 L379.53 755.59 L379.58 756.59 L379.62 757.59 L379.66 758.59 L379.7 759.6 L379.75 760.6 L379.79 761.6 L379.84 762.61 L379.88 763.61 L379.93 764.61 L379.98 765.61 L380.02 766.62 L380.07 767.62 L380.12 768.62 L380.17 769.62 L380.23 770.63 L380.28 771.63 L380.33 772.63 L380.39 773.63 L380.45 774.63 L380.51 775.64 L380.57 776.64 L380.64 777.64 L380.71 778.64 L380.77 779.64 L380.85 780.64 L380.92 781.64 L381 782.65 L381.07 783.65 L381.15 784.65 L381.23 785.65 L381.31 786.65 L381.4 787.65 L381.48 788.65 L381.56 789.65 L381.64 790.65 L381.73 791.65 L381.81 792.65 L381.89 793.65 L381.97 794.65 L382.05 795.65 L382.13 796.65 L382.21 797.65 L382.28 798.65 L382.36 799.65 L382.43 800.66 L382.5 801.66 L382.58 802.66 L382.65 803.66 L382.72 804.66 L382.79 805.66 L382.85 806.66 L382.92 807.66 L382.99 808.67 L383.05 809.67 L383.12 810.67 L383.18 811.67 L383.24 812.67 L383.3 813.67 L383.37 814.68 L383.43 815.68 L383.49 816.68 L383.55 817.68 L383.61 818.68 L383.66 819.69 L383.72 820.69 L383.78 821.69 L383.84 822.69 L383.9 823.69 L383.95 824.7 L384.01 825.7 L384.06 826.7 L384.12 827.7 L384.18 828.71 L384.23 829.71 L384.29 830.71 L384.34 831.71 L384.4 832.71 L384.45 833.72 L384.51 834.72 L384.56 835.72 L384.62 836.72 L384.67 837.73 L384.73 838.73 L384.78 839.73 L384.84 840.73 L384.89 841.74 L384.95 842.74 L385.01 843.74 L385.06 844.74 L385.12 845.74 L385.18 846.75 L385.23 847.75 L385.29 848.75 L385.35 849.75 L385.41 850.75 L385.47 851.76 L385.53 852.76 L385.59 853.76 L385.65 854.76 L385.71 855.76 L385.77 856.77 L385.83 857.77 L385.89 858.77 L385.95 859.77 L386.01 860.77 L386.07 861.77 L386.14 862.78 L386.2 863.78 L386.26 864.78 L386.33 865.78 L386.39 866.78 L386.46 867.78 L386.52 868.79 L386.58 869.79 L386.65 870.79 L386.72 871.79 L386.78 872.79 L386.85 873.79 L386.91 874.8 L386.98 875.8 L387.05 876.8 L387.12 877.8 L387.18 878.8 L387.25 879.8 L387.32 880.8 L387.39 881.81 L387.46 882.81 L387.53 883.81 L387.6 884.81 L387.67 885.81 L387.74 886.81 L387.81 887.81 L387.88 888.81 L387.95 889.82 L388.03 890.82 L388.1 891.82 L388.17 892.82 L388.24 893.82 L388.32 894.82 L388.39 895.82 L388.46 896.82 L388.54 897.83 L388.61 898.83 L388.69 899.83 L388.76 900.83 L388.84 901.83 L388.91 902.83 L388.99 903.83 L389.07 904.83 L389.14 905.83 L389.22 906.83 L389.3 907.84 L389.38 908.84 L389.46 909.84 L389.54 910.84 L389.62 911.84 L389.7 912.84 L389.78 913.84 L389.86 914.84 L389.95 915.84 L390.03 916.84 L390.12 917.84 L390.2 918.84 L390.29 919.84 L390.38 920.84 L390.47 921.84 L390.56 922.84 L390.65 923.84 L390.74 924.84 L390.83 925.84 L390.93 926.84 L391.02 927.84 L391.12 928.84 L391.22 929.84 L391.32 930.84 L391.42 931.83 L391.52 932.83 L391.62 933.83 L391.72 934.83 L391.83 935.83 L391.94 936.83 L392.04 937.82 L392.15 938.82 L392.26 939.82 L392.38 940.82 L392.49 941.81 L392.61 942.81 L392.72 943.81 L392.84 944.8 L392.96 945.8 L393.09 946.8 L393.21 947.79 L393.34 948.79 L393.46 949.78 L393.59 950.78 L393.72 951.77 L393.85 952.77 L393.98 953.76 L394.12 954.76 L394.25 955.75 L394.39 956.75 L394.52 957.74 L394.66 958.74 L394.8 959.73 L394.94 960.72 L395.08 961.72 L395.23 962.71 L395.37 963.7 L395.51 964.7 L395.66 965.69 L395.81 966.68 L395.95 967.68 L396.1 968.67 L396.25 969.66 L396.4 970.66 L396.55 971.65 L396.7 972.64 L396.85 973.63 L397 974.63 L397.16 975.62 L397.31 976.61 L397.47 977.6 L397.63 978.59 L397.8 979.58 L397.97 980.57 L398.14 981.56 L398.32 982.55 L398.5 983.54 L398.69 984.52 L398.88 985.51 L399.08 986.49 L399.29 987.47 L399.5 988.45 L399.73 989.43 L399.96 990.41 L400.19 991.39 L400.44 992.37 L400.7 993.34 L400.96 994.31 L401.24 995.28 L401.53 996.24 L401.83 997.2 L402.15 998.15 L402.48 999.1 L402.83 1000.04 L403.19 1000.98 L403.57 1001.91 L403.97 1002.83 L404.38 1003.74 L404.82 1004.65 L405.27 1005.55 L405.74 1006.44 L406.23 1007.32 L406.73 1008.19 L407.25 1009.05 L407.79 1009.89 L408.34 1010.73 L408.91 1011.56 L409.49 1012.37 L410.09 1013.18 L410.71 1013.97 L411.35 1014.75 L412 1015.52 L412.67 1016.27 L413.37 1016.99 L414.1 1017.69 L414.86 1018.34 L415.67 1018.93 L416.52 1019.47 L417.4 1019.96 L418.31 1020.39 L419.24 1020.77 L420.18 1021.11 L421.14 1021.41 L422.11 1021.69 L423.08 1021.95 L424.05 1022.19 L425.03 1022.41 L426.02 1022.62 L427 1022.8 L427.99 1022.96 L428.99 1023.09 L429.98 1023.19 L430.98 1023.28 L431.99 1023.35 L432.99 1023.4 L433.99 1023.45 L435 1023.5"/>
<path class="b" stroke-width="11" d="M434 1023.5 L1941 1023.5"/>
<path class="o" stroke-width="10" stroke-dasharray="50 17.3 13 17.3" d="M271 764 L367 764"/>
<path class="o" d="M368 764.1 L370.6 763.2 L371.7 761.8 L372.5 760.4 L373.25 757.1 L374.45 752.5 L375.2 747.8 L376.3 742.6 L377 738 L377.8 735.8 L379.2 735.3 L380.6 735.8 L381.5 738 L382.1 742 L382.5 747.9"/>
<path class="o" d="M384.1 766.2 L385 779"/>
<path class="o" d="M387.1 795.9 L390.2 845.4"/>
<path class="o" d="M392 863.3 L393 876.1"/>
<path class="o" d="M394.6 893.5 L396.9 918 L399.8 943.6"/>
<path class="o" d="M403.1 960.5 L404.8 973.8"/>
<path class="o" d="M408.95 990.7 L412.4 1000.2 L414 1002.7 L421.4 996.2 L424.1 999.1 L426.3 1004.1 L427.6 1010.8 L429 1020.2"/>
<path class="o" d="M433 1037.6 L435 1050"/>
<path class="o" d="M440.56 1067.4 L446.3 1074.4 L453 1074.6 L466.6 1043.3"/>
<path class="o" d="M481.5 1049.5 L493 1043.2"/>
<path class="o" d="M503.05 1027.6 L511.46 1018.07 L514.36 1018.07 L527.1 1022.9 L536 1022.9 L545.07 1018"/>
<path class="o" d="M561.2 1018.6 L573.4 1022.4"/>
<path class="o" stroke-width="10" d="M591 1020.9 L600.8 1021.5 L610 1023.7 L616.5 1024.8 L626 1024.8 L634.3 1023.5 L640.8 1022.9"/>
<path class="o" stroke-width="10" d="M658 1024 L670.9 1024"/>
<path class="o" stroke-width="11" stroke-dasharray="50 17.3 13 17.3" d="M688.8 1023.5 L1941 1023.5"/>
</g>
<path class="b" stroke-width="10" d="M1229 136H1413"/>
<path class="o" stroke-width="10" stroke-dasharray="50 17.3 13 17.3" d="M1229 209H1413"/>
<text class="lg" x="1430.5" y="154">DOB</text>
<text class="lg" x="1430.5" y="226.5">GIS based DOB</text>
<text class="tk" x="250.23" y="550.8">0</text>
<text class="tk" x="250.23" y="1182.8">0</text>
<text class="tk" x="581.88" y="550.8">5</text>
<text class="tk" x="581.88" y="1182.8">5</text>
<text class="tk" x="894.95 939.6" y="550.8">10</text>
<text class="tk" x="894.95 939.6" y="1182.8">10</text>
<text class="tk" x="1227.25 1271.9" y="550.8">15</text>
<text class="tk" x="1227.25 1271.9" y="1182.8">15</text>
<text class="tk" x="1563.75 1606" y="550.8">20</text>
<text class="tk" x="1563.75 1606" y="1182.8">20</text>
<text class="tk" x="1895.85 1938.1" y="550.8">25</text>
<text class="tk" x="1895.85 1938.1" y="1182.8">25</text>
<text class="tk" x="129.38 174.03 195.15" y="105.35">1.5</text>
<text class="tk" x="199.95" y="226.7">1</text>
<text class="tk" x="130.28 172.53 193.65" y="348.8">0.5</text>
<text class="tk" x="199.85" y="469.7">0</text>
<text class="tk" x="199.75" y="792.95">0</text>
<text class="tk" x="167.26 195.4" y="922.65">-5</text>
<text class="tk" x="126.36 152.1 196.75" y="1052.65">-10</text>
<text class="al" font-style="italic" style="font-size:88px" text-anchor="middle" transform="translate(93.65 258.3) rotate(-90)">y</text>
<text class="al" font-style="italic" text-anchor="middle" transform="translate(88.5 892.7) rotate(-90)">u</text>
<text class="al" y="1288"><tspan font-style="italic" x="1034">t</tspan><tspan x="1065 1087.8 1114 1137.2" style="font-size:94px"> /<tspan style="font-size:91px"> s</tspan></tspan></text>
</svg></body></html>
